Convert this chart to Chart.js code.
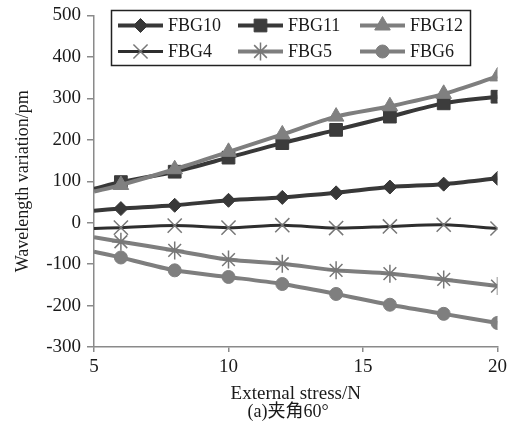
<!DOCTYPE html>
<html><head><meta charset="utf-8">
<script src="https://cdn.jsdelivr.net/npm/chart.js@4/dist/chart.umd.min.js"></script>
<style>html,body{margin:0;padding:0;background:#fff}</style>
</head><body>
<canvas id="c" width="513" height="429" style="width:513px;height:429px;display:block"></canvas>
<script>
const stress = [5, 6, 8, 10, 12, 14, 16, 18, 20];
const fbg10 = [29, 34, 42, 54, 61, 72, 86, 93, 107];
const fbg11 = [82, 98, 123, 157, 192, 224, 256, 288, 304];
const fbg12 = [75, 91, 129, 171, 213, 256, 281, 311, 353];
const fbg4 = [-14, -12, -7, -12, -6, -13, -9, -5, -14];
const fbg5 = [-35, -46, -67, -89, -99, -115, -123, -137, -153];
const fbg6 = [-70, -84, -115, -131, -148, -172, -198, -220, -242];
const seriesNames = ['FBG10', 'FBG11', 'FBG12', 'FBG4', 'FBG5', 'FBG6'];
const yTicks = [-300, -200, -100, 0, 100, 200, 300, 400, 500];
const xTicks = [5, 10, 15, 20];
const xTitle = 'External stress/N';
const yTitle = 'Wavelength variation/pm';
const caption = '(a)夹角60°';

const DARK = '#383838', GRAY = '#7e7e7e';
const FONT = '"Liberation Serif", "Times New Roman", "Noto Sans CJK SC", serif';

function mk(label, data, color, lw, style, r, fill, border, bw, order) {
  return {
    label, order,
    data: stress.map((x, i) => ({x, y: data[i]})),
    borderColor: color, borderWidth: lw,
    pointStyle: style,
    pointRadius: stress.map((x, i) => i === 0 ? 0 : r),
    pointHoverRadius: 0,
    pointBackgroundColor: fill, pointBorderColor: border, pointBorderWidth: bw,
    legendRadius: r,
    tension: 0.3, fill: false
  };
}
const datasets = [
  mk(seriesNames[0], fbg10, DARK, 4, 'rectRot', 7, DARK, DARK, 1, 6),
  mk(seriesNames[1], fbg11, DARK, 4, 'rect', 9, '#3c3c3c', '#3c3c3c', 1, 5),
  mk(seriesNames[2], fbg12, GRAY, 4, 'triangle', 9, '#808080', '#808080', 1, 4),
  mk(seriesNames[3], fbg4, '#2e2e2e', 3, 'crossRot', 10, '#777', '#777', 1.5, 3),
  mk(seriesNames[4], fbg5, GRAY, 4, 'star', 9, '#777', '#777', 1.5, 2),
  mk(seriesNames[5], fbg6, GRAY, 4, 'circle', 6.5, '#7f7f7f', '#7f7f7f', 1, 1)
];

const legendCols = [118, 238, 360];
const legendRows = [25.5, 51.5];
const boxLegend = {
  id: 'boxLegend',
  afterDraw(chart) {
    const ctx = chart.ctx;
    ctx.save();
    ctx.fillStyle = '#fff';
    ctx.fillRect(111, 10, 359, 55);
    ctx.lineWidth = 1.5; ctx.strokeStyle = '#222';
    ctx.strokeRect(111.5, 10.5, 359, 55);
    chart.data.datasets.forEach((ds, i) => {
      const x0 = legendCols[i % 3], y = legendRows[Math.floor(i / 3)];
      ctx.strokeStyle = ds.borderColor; ctx.lineWidth = ds.borderWidth;
      ctx.beginPath(); ctx.moveTo(x0, y); ctx.lineTo(x0 + 45, y); ctx.stroke();
      ctx.fillStyle = ds.pointBackgroundColor; ctx.strokeStyle = ds.pointBorderColor;
      ctx.lineWidth = ds.pointBorderWidth;
      Chart.helpers.drawPoint(ctx, {pointStyle: ds.pointStyle, radius: ds.legendRadius, rotation: 0, borderWidth: ds.pointBorderWidth}, x0 + 22.5, y);
      ctx.fillStyle = '#1a1a1a'; ctx.font = '18px ' + FONT;
      ctx.textBaseline = 'middle'; ctx.textAlign = 'left';
      ctx.fillText(ds.label, x0 + 50, y + 1);
    });
    // caption under the x-axis title
    ctx.fillStyle = '#1a1a1a'; ctx.font = '18px ' + FONT;
    ctx.textAlign = 'center'; ctx.textBaseline = 'middle';
    ctx.fillText(caption, 288, 412);
    ctx.restore();
  }
};

new Chart(document.getElementById('c'), {
  type: 'line',
  data: {datasets},
  plugins: [boxLegend],
  options: {
    responsive: false, animation: false, devicePixelRatio: 1,
    layout: {padding: {left: 0, right: 14, top: 13, bottom: 27}},
    plugins: {legend: {display: false}, tooltip: {enabled: false}},
    scales: {
      x: {
        type: 'linear', min: 5, max: 20,
        afterBuildTicks: s => { s.ticks = xTicks.map(v => ({value: v})); },
        afterFit: s => { s.height = 55; },
        grid: {drawOnChartArea: false, color: '#8a8a8a', tickLength: 5, lineWidth: 1.5},
        border: {color: '#8a8a8a', width: 1.5},
        ticks: {color: '#1a1a1a', font: {family: FONT, size: 19, lineHeight: 1.0}, padding: 6, maxRotation: 0},
        title: {display: true, text: xTitle, color: '#1a1a1a', font: {family: FONT, size: 19, lineHeight: 1.0}, padding: {top: 0, bottom: -2}}
      },
      y: {
        type: 'linear', min: -300, max: 500,
        afterBuildTicks: s => { s.ticks = yTicks.map(v => ({value: v})); },
        afterFit: s => { s.width = 94; },
        grid: {drawOnChartArea: false, color: '#8a8a8a', tickLength: 7, lineWidth: 1.5},
        border: {color: '#8a8a8a', width: 1.5},
        ticks: {color: '#1a1a1a', font: {family: FONT, size: 19, lineHeight: 1.0}, padding: 6},
        title: {display: true, text: yTitle, color: '#1a1a1a', font: {family: FONT, size: 18, lineHeight: 1.0}, padding: {top: 14, bottom: 0}}
      }
    }
  }
});
</script>
</body></html>
